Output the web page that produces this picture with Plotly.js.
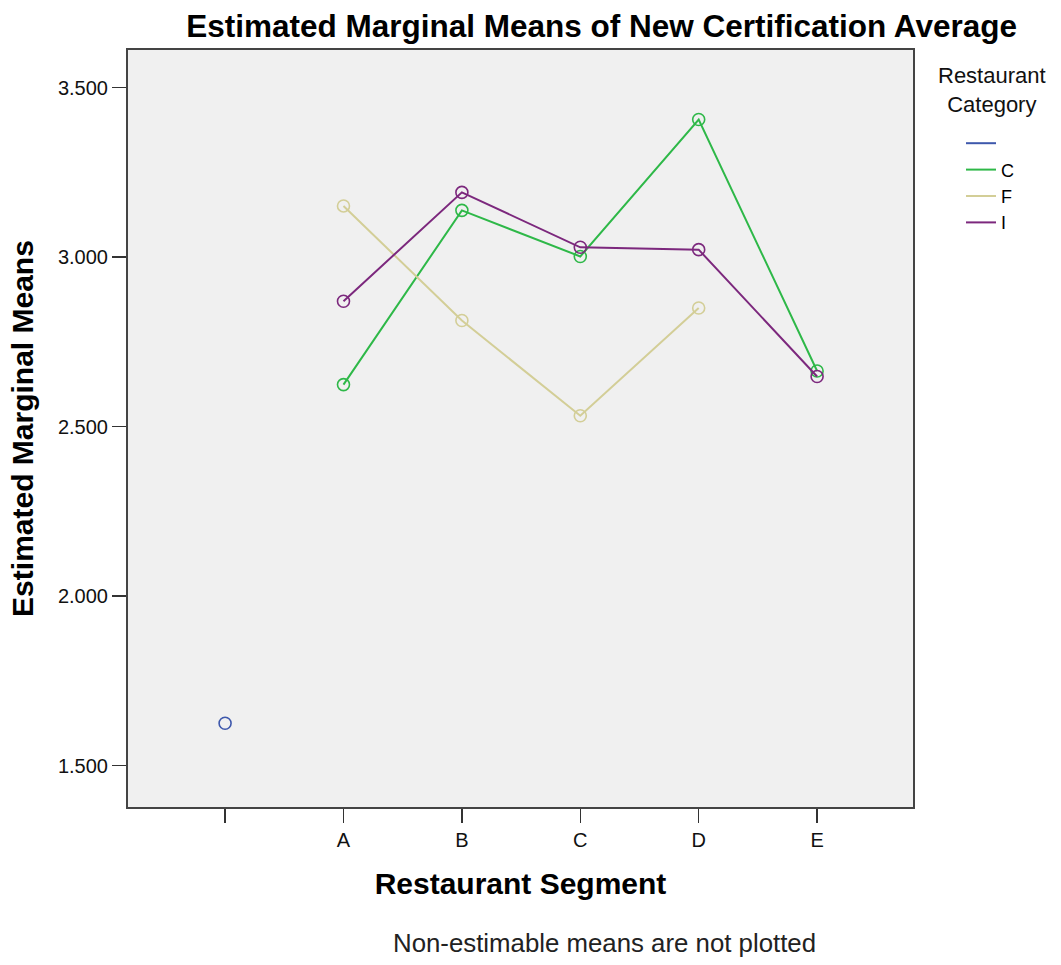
<!DOCTYPE html>
<html>
<head>
<meta charset="utf-8">
<script src="https://cdn.plot.ly/plotly-3.0.1.min.js"></script>
<style>
  html, body { margin: 0; padding: 0; background: #ffffff; }
  #chart { width: 1061px; height: 965px; }
</style>
</head>
<body>
<div id="chart"></div>
<script>
// Restaurant Segment categories (first one is blank)
const segments = ["", "A", "B", "C", "D", "E"];

// Series: Restaurant Category
const blankSegs = [""];
const blankVals = [1.625];

const catC = [2.624, 3.138, 3.002, 3.406, 2.664];
const catF = [3.151, 2.813, 2.532, 2.850, null];
const catI = [2.870, 3.191, 3.029, 3.022, 2.648];
const lettered = ["A", "B", "C", "D", "E"];

const yTicks = [1.5, 2.0, 2.5, 3.0, 3.5];

const idx = arr => arr.map(s => segments.indexOf(s));

const series = [
  { name: " ", segs: blankSegs, vals: blankVals, color: "#3E58AC" },
  { name: "C", segs: lettered, vals: catC, color: "#2EB848" },
  { name: "F", segs: lettered, vals: catF, color: "#D3CE97" },
  { name: "I", segs: lettered, vals: catI, color: "#7C287D" }
];

const traces = [];
series.forEach(s => {
  traces.push({
    type: "scatter", mode: "lines",
    x: idx(s.segs), y: s.vals, name: s.name,
    line: { color: s.color, width: 2 },
    connectgaps: false, hoverinfo: "skip", showlegend: true
  });
  traces.push({
    type: "scatter", mode: "markers",
    x: idx(s.segs), y: s.vals, name: s.name,
    marker: { symbol: "circle-open", size: 12, color: s.color, line: { width: 1.6, color: s.color } },
    showlegend: false
  });
});

const L = 128, R = 913, T = 50, B = 807;
const px = x => (x - L) / (R - L);
const py = y => 1 - (y - T) / (B - T);

const layout = {
  width: 1061, height: 965,
  paper_bgcolor: "#ffffff",
  plot_bgcolor: "#f0f0f0",
  margin: { l: L, r: 1061 - R, t: T, b: 965 - B },
  font: { family: "Liberation Sans, Arial, sans-serif", color: "#000000" },
  title: {
    text: "Estimated Marginal Means of New Certification Average",
    font: { size: 31.5, family: "Liberation Sans, Arial, sans-serif", weight: "bold", color: "#000" },
    xref: "container", yref: "container", x: 0.567, y: 0.973, xanchor: "center", yanchor: "middle"
  },
  xaxis: {
    range: [-0.82, 5.81],
    tickmode: "array",
    tickvals: segments.map((s, i) => i),
    ticktext: segments,
    ticks: "outside", ticklen: 14, tickwidth: 1.5, tickcolor: "#333",
    tickfont: { size: 20, color: "#111" },
    showgrid: false, zeroline: false,
    showline: true, mirror: true, linecolor: "#444", linewidth: 2,
    title: { text: "Restaurant Segment", font: { size: 30, weight: "bold", color: "#000" }, standoff: 23 }
  },
  yaxis: {
    range: [1.378, 3.611],
    tickmode: "array",
    tickvals: yTicks,
    ticktext: yTicks.map(v => v.toFixed(3)),
    ticks: "outside", ticklen: 14, tickwidth: 1.5, tickcolor: "#333",
    tickfont: { size: 20, color: "#111" },
    showgrid: false, zeroline: false,
    showline: true, mirror: true, linecolor: "#444", linewidth: 2,
    title: { text: "Estimated Marginal Means", font: { size: 30, weight: "bold", color: "#000" }, standoff: 15 }
  },
  legend: {
    x: px(961), xanchor: "left", y: py(125), yanchor: "top",
    bgcolor: "rgba(0,0,0,0)",
    font: { size: 18, color: "#000" },
    itemwidth: 30, tracegroupgap: 0
  },
  annotations: [
    {
      text: "Restaurant<br>Category",
      xref: "paper", yref: "paper", x: px(991.5), y: py(90),
      xanchor: "center", yanchor: "middle", align: "center", showarrow: false,
      font: { size: 22, color: "#111" }
    },
    {
      text: "Non-estimable means are not plotted",
      xref: "paper", yref: "paper", x: px(604), y: py(943),
      xanchor: "center", yanchor: "middle", showarrow: false,
      font: { size: 25.8, color: "#222" }
    }
  ]
};

Plotly.newPlot("chart", traces, layout, { displayModeBar: false, staticPlot: true });
</script>
</body>
</html>
